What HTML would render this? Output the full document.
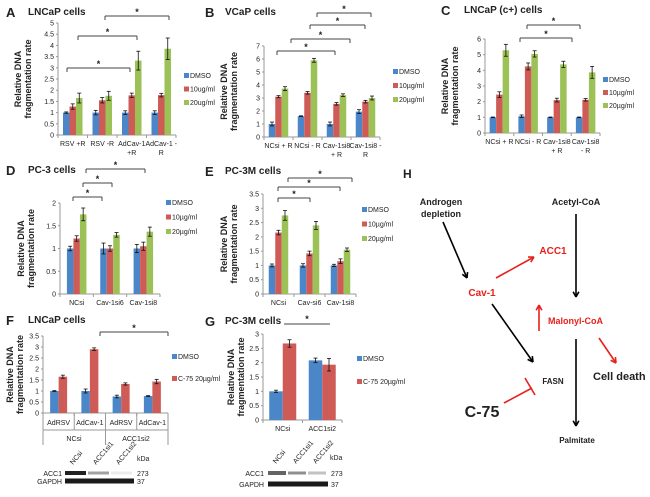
<!DOCTYPE html>
<html><head><meta charset="utf-8"><style>
html,body{margin:0;padding:0;background:#fff;}
svg{display:block;font-family:"Liberation Sans",sans-serif;}
</style></head><body>
<svg id="s" width="650" height="497" viewBox="0 0 650 497" xmlns="http://www.w3.org/2000/svg"></svg>
<script>
const S=document.getElementById('s');let h='';
const C=['#4a86c8','#cf5b57','#9bc157'];
function T(x,y,t,o){o=o||{};h+=`<text x="${x}" y="${y}" font-size="${o.s||7}" ${o.b?'font-weight="bold"':''} fill="${o.f||'#222'}" text-anchor="${o.a||'start'}" ${o.r?`transform="rotate(${o.r} ${x} ${y})"`:''}>${t}</text>`;}
function L(x1,y1,x2,y2,c,w){h+=`<line x1="${x1}" y1="${y1}" x2="${x2}" y2="${y2}" stroke="${c||'#333'}" stroke-width="${w||1}"/>`;}
function chart(o){
 const n=o.data.length,gw=(o.x1-o.x0)/n,ppu=(o.y0-o.yt)/o.max,bw=o.bw||6.5;
 L(o.x0,o.yt,o.x0,o.y0,'#999');L(o.x0,o.y0,o.x1,o.y0,'#999');
 for(let v=0;v<=o.max+1e-9;v+=o.step){const y=o.y0-v*ppu;L(o.x0-2,y,o.x0,y,'#999');T(o.x0-4,y+2.5,+v.toFixed(1)+'',{a:'end',s:7});}
 for(let i=0;i<=n;i++)L(o.x0+gw*i,o.y0,o.x0+gw*i,o.y0+3,'#999');
 o.data.forEach((g,i)=>{const c=o.x0+gw*(i+.5),m=g.length;
  g.forEach((v,j)=>{const x=c-m*bw/2+j*bw,y=o.y0-v*ppu,e=(o.err?o.err[i][j]:0.07)*ppu;
   h+=`<rect x="${x}" y="${y}" width="${bw}" height="${v*ppu}" fill="${o.cols?o.cols[j]:C[j]}"/>`;
   L(x+bw/2,y-e,x+bw/2,y+e,'#111',0.8);L(x+bw/2-2,y-e,x+bw/2+2,y-e,'#111',0.8);L(x+bw/2-2,y+e,x+bw/2+2,y+e,'#111',0.8);});
  if(o.labels){o.labels[i].split('|').forEach((t,k)=>T(c,o.y0+11+k*9,t,{a:'middle',s:7}));}
 });
 const my=(o.y0+o.yt)/2;
 T(o.x0-o.ax1,my,'Relative DNA',{a:'middle',s:9,b:1,r:-90});
 T(o.x0-o.ax2,my,'fragmentation rate',{a:'middle',s:9,b:1,r:-90});
 o.leg.forEach((t,k)=>{const y=o.ly+k*o.lg;h+=`<rect x="${o.lx}" y="${y-5}" width="5" height="5" fill="${o.cols?o.cols[k]:C[k]}"/>`;T(o.lx+6,y,t,{s:7});});
}
function br(x1,x2,y){L(x1,y+4,x1,y,'#444');L(x1,y,x2,y,'#444');L(x2,y,x2,y+4,'#444');T((x1+x2)/2,y-1,'*',{a:'middle',s:9,b:1});}
function title(lx,ly,l,tx,t){T(lx,ly,l,{s:13,b:1});T(tx,ly-2,t,{s:10,b:1});}
const u='µg/ml';
// A
title(6,17,'A',28,'LNCaP cells');
chart({x0:58,x1:176,y0:135,yt:23,max:5,step:0.5,data:[[1,1.27,1.65],[1,1.55,1.75],[1,1.77,3.32],[1,1.78,3.85]],
 err:[[.03,.12,.22],[.1,.12,.2],[.08,.1,.42],[.08,.08,.48]],labels:['RSV +R','RSV -R','AdCav-1|+R','AdCav-1 -|R'],
 ax1:37,ax2:27,leg:['DMSO','10ug/ml','20ug/ml'],lx:184,ly:78,lg:13.5});
br(67,130,68);br(78,137,36);br(105,169,16);
// B
title(205,17,'B',225,'VCaP cells');
chart({x0:264,x1:380,y0:137,yt:46,max:7,step:1,data:[[1,3.1,3.72],[1.6,3.4,5.9],[1,2.55,3.22],[1.95,2.72,3.0]],
 err:[[.15,.08,.15],[.03,.1,.15],[.15,.1,.1],[.15,.1,.15]],labels:['NCsi + R','NCsi - R','Cav-1si8|+ R','Cav-1si8 -|R'],
 ax1:37,ax2:27,leg:['DMSO','10'+u,'20'+u],lx:393,ly:74,lg:14});
br(277,335,51);br(291,350,39);br(310,365,25);br(317,371,13);
// C
title(441,15,'C',464,'LNCaP (c+) cells');
chart({x0:485,x1:600,y0:133,yt:39,max:6,step:1,data:[[1,2.45,5.28],[1.07,4.25,5.05],[1,2.1,4.38],[1,2.12,3.87]],
 err:[[.02,.18,.38],[.08,.22,.2],[.02,.12,.2],[.02,.08,.38]],labels:['NCsi + R','NCsi - R','Cav-1si8|+ R','Cav-1si8|- R'],
 ax1:37,ax2:27,leg:['DMSO','10'+u,'20'+u],lx:603,ly:82,lg:13});
br(520,572,38);br(527,580,25);
// D
title(6,175,'D',28,'PC-3 cells');
chart({x0:60,x1:160,y0:294,yt:203,max:2,step:0.5,data:[[1,1.22,1.75],[1,1,1.3],[1,1.05,1.37]],
 err:[[.05,.06,.14],[.12,.06,.05],[.09,.09,.1]],labels:['NCsi','Cav-1si6','Cav-1si8'],
 ax1:36,ax2:26,leg:['DMSO','10'+u,'20'+u],lx:166,ly:205,lg:14.5});
br(73,102,197);br(83,112,183);br(86,145,169);
// E
title(205,176,'E',225,'PC-3M cells');
chart({x0:263,x1:356,y0:294,yt:194,max:3.5,step:0.5,data:[[1,2.15,2.75],[1,1.42,2.4],[1,1.15,1.55]],
 err:[[.05,.08,.17],[.06,.08,.14],[.04,.08,.06]],labels:['NCsi','Cav-si6','Cav-1si8'],
 ax1:36,ax2:26,leg:['DMSO','10'+u,'20'+u],lx:362,ly:212,lg:14.5});
br(278,310,198);br(278,340,187);br(288,352,178);
// F
title(6,325,'F',28,'LNCaP cells');
chart({x0:43,x1:168,y0:413,yt:336,max:3.5,step:0.5,data:[[1,1.65],[1,2.9],[.75,1.32],[.77,1.43]],cols:['#4a86c8','#cf5b57'],bw:8.5,
 err:[[.02,.07],[.09,.06],[.06,.05],[.02,.1]],
 ax1:30,ax2:20,leg:['DMSO','C-75 20'+u],lx:172,ly:359,lg:22});
['AdRSV','AdCav-1','AdRSV','AdCav-1'].forEach((t,i)=>T(43+31.25*(i+.5),425,t,{a:'middle',s:7}));
L(43,413,43,445,'#999');L(105.5,413,105.5,445,'#999');L(168,413,168,445,'#999');
for(let i=1;i<4;i+=2)L(43+31.25*i,413,43+31.25*i,430,'#999');
L(43,430,168,430,'#999');
T(74,441,'NCsi',{a:'middle',s:7});T(136,441,'ACC1si2',{a:'middle',s:7});
br(100,168,332);
// G
title(205,326,'G',225,'PC-3M cells');
chart({x0:263,x1:342,y0:420,yt:334,max:3,step:0.5,data:[[1,2.67],[2.08,1.93]],cols:['#4a86c8','#cf5b57'],bw:13.5,
 err:[[.04,.13],[.08,.22]],labels:['NCsi','ACC1si2'],
 ax1:29,ax2:19,leg:['DMSO','C-75 20'+u],lx:357,ly:361,lg:23});
L(284,324,330,324,'#444');T(307,322,'*',{a:'middle',s:9,b:1});
// blots
function blot(x0,x1,yA,yG,lx,kx,ky,names,ax){
 names.forEach((t,i)=>T(x0+8+i*(x1-x0)/3,ky+4,t,{s:7,r:-50}));
 T(kx,ky,'kDa',{s:7});
 T(lx,yA+3,'ACC1',{a:'end',s:7});T(lx,yG+3,'GAPDH',{a:'end',s:7});
 h+=`<rect x="${x0}" y="${yA-2}" width="${(x1-x0)/3-2}" height="4" fill="#222" opacity="${ax[0]}"/>`;
 h+=`<rect x="${x0+(x1-x0)/3}" y="${yA-1.5}" width="${(x1-x0)/3-2}" height="3" fill="#444" opacity="${ax[1]}"/>`;
 h+=`<rect x="${x0+2*(x1-x0)/3}" y="${yA-1.5}" width="${(x1-x0)/3-2}" height="3" fill="#666" opacity="${ax[2]}"/>`;
 h+=`<rect x="${x0}" y="${yG-2.5}" width="${x1-x0}" height="5" fill="#1a1a1a"/>`;
 T(x1+3,yA+3,'273',{s:7});T(x1+3,yG+3,'37',{s:7});
}
blot(65,134,473,481,62,137,461,['NCsi','ACC1si1','ACC1si2'],[1,.5,.12]);
blot(268,328,473,484,264,330,460,['NCsi','ACC1si1','ACC1si2'],[.7,.6,.4]);
// H
T(403,178,'H',{s:12,b:1});
T(441,205,'Androgen',{a:'middle',s:9,b:1});T(441,217,'depletion',{a:'middle',s:9,b:1});
T(576,205,'Acetyl-CoA',{a:'middle',s:9,b:1});
T(553,254,'ACC1',{a:'middle',s:10,b:1,f:'#e8201c'});
T(482,296,'Cav-1',{a:'middle',s:10,b:1,f:'#e8201c'});
T(548,324,'Malonyl-CoA',{s:9,b:1,f:'#e8201c'});
T(553,384,'FASN',{a:'middle',s:8,b:1});
T(593,380,'Cell death',{s:11,b:1});
T(482,417,'C-75',{a:'middle',s:16,b:1});
T(577,443,'Palmitate',{a:'middle',s:8,b:1});
function arr(x1,y1,x2,y2,c){L(x1,y1,x2,y2,c,1.6);const a=Math.atan2(y2-y1,x2-x1),s=6;
 L(x2,y2,x2-s*Math.cos(a-0.5),y2-s*Math.sin(a-0.5),c,1.6);L(x2,y2,x2-s*Math.cos(a+0.5),y2-s*Math.sin(a+0.5),c,1.6);}
arr(443,222,467,278,'#000');
arr(576,214,576,297,'#000');
arr(496,278,534,257,'#e8201c');
arr(539,331,539,305,'#e8201c');
arr(492,304,533,362,'#000');
arr(576,339,576,426,'#000');
arr(599,338,616,363,'#e8201c');
L(504,403,532,388,'#e8201c',1.6);L(525,378,535,395,'#e8201c',1.6);
S.innerHTML=h;
</script>
</body></html>
